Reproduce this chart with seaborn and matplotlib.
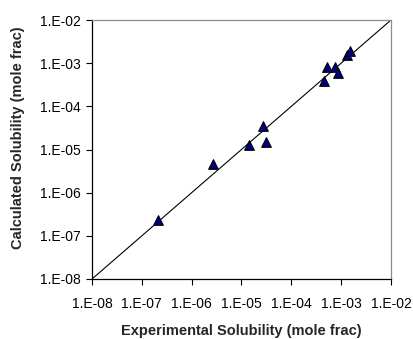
import matplotlib
matplotlib.use("Agg")
import matplotlib.pyplot as plt
import seaborn as sns
import numpy as np
import pandas as pd
from matplotlib.ticker import FixedLocator, FuncFormatter, NullLocator

experimental = [2.14e-7, 2.7e-6, 1.42e-5, 2.67e-5, 3.1e-5, 4.5e-4, 5.2e-4, 7.6e-4, 8.7e-4, 1.3e-3, 1.47e-3]
calculated = [2.3e-7, 4.5e-6, 1.28e-5, 3.5e-5, 1.5e-5, 3.8e-4, 8.2e-4, 8.2e-4, 6.0e-4, 1.53e-3, 1.9e-3]
tick_values = [1e-8, 1e-7, 1e-6, 1e-5, 1e-4, 1e-3, 1e-2]
tick_labels = ["1.E-08", "1.E-07", "1.E-06", "1.E-05", "1.E-04", "1.E-03", "1.E-02"]
parity = [1e-8, 1e-2]

sns.set_style("white")
plt.rcParams['font.family'] = ['Liberation Sans', 'DejaVu Sans']

df = pd.DataFrame({"Experimental": experimental, "Calculated": calculated})

fig = plt.figure(figsize=(4.14, 3.39), dpi=100)
ax = fig.add_axes([92/414, 1 - 279/339, 299/414, 259/339])

ax.plot(parity, parity, color="black", linewidth=0.8, zorder=1)
sns.scatterplot(data=df, x="Experimental", y="Calculated", ax=ax, marker="^",
                s=48, color="#000080", edgecolor="black", linewidth=0.8, zorder=3)

ax.set_xscale("log")
ax.set_yscale("log")
ax.set_xlim(1e-8, 1e-2)
ax.set_ylim(1e-8, 1e-2)

ax.xaxis.set_major_locator(FixedLocator(tick_values))
ax.yaxis.set_major_locator(FixedLocator(tick_values))
ax.xaxis.set_minor_locator(NullLocator())
ax.yaxis.set_minor_locator(NullLocator())
fmt = FuncFormatter(lambda v, p: tick_labels[int(round(np.log10(v))) + 8])
ax.xaxis.set_major_formatter(fmt)
ax.yaxis.set_major_formatter(fmt)

ax.tick_params(axis="both", which="major", direction="out", length=4, width=0.8,
               colors="black", labelsize=10, bottom=True, left=True)
ax.tick_params(axis="x", pad=9)
ax.tick_params(axis="y", pad=4)

for side in ["left", "bottom"]:
    ax.spines[side].set_color("black")
    ax.spines[side].set_linewidth(0.9)
for side in ["top", "right"]:
    ax.spines[side].set_color("#8c8c8c")
    ax.spines[side].set_linewidth(0.9)
    ax.spines[side].set_visible(True)

ax.set_xlabel("Experimental Solubility (mole frac)", fontsize=10.5, fontweight="bold")
ax.set_ylabel("Calculated Solubility (mole frac)", fontsize=10.5, fontweight="bold")
ax.xaxis.set_label_coords(0.5, -0.175)
ax.yaxis.set_label_coords(-0.225, 0.544)

fig.savefig("out.png", dpi=100)
